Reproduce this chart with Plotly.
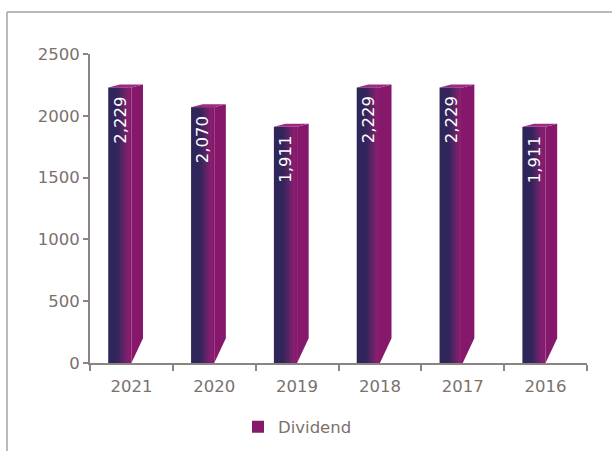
import plotly.graph_objects as go

# ---- data ----
years = ["2021", "2020", "2019", "2018", "2017", "2016"]
dividend = [2229, 2070, 1911, 2229, 2229, 1911]
value_labels = ["2,229", "2,070", "1,911", "2,229", "2,229", "1,911"]
y_ticks = [0, 500, 1000, 1500, 2000, 2500]

# ---- style constants ----
FRONT_W = 0.28      # front face width (category units)
DEPTH_X = 0.14      # side face depth (category units)
TOP_RISE = 24       # top slant (value units)
BOT_RISE = 200      # bottom slant of side face (value units)
N_STRIPES = 14
FONT = "DejaVu Sans"
GRAY = "#7b716d"
AXIS_COL = "#8c8480"

stops = [(0.0, (46, 38, 88)), (0.40, (50, 38, 92)), (0.70, (105, 35, 104)),
         (0.90, (142, 30, 114)), (1.0, (128, 24, 104))]


def grad(t):
    for (p0, c0), (p1, c1) in zip(stops[:-1], stops[1:]):
        if p0 <= t <= p1:
            f = (t - p0) / (p1 - p0) if p1 > p0 else 0
            c = [round(a + (b - a) * f) for a, b in zip(c0, c1)]
            return "rgb(%d,%d,%d)" % tuple(c)
    return "rgb(%d,%d,%d)" % stops[-1][1]


fig = go.Figure()

# front faces as stripes (gradient)
w = FRONT_W / N_STRIPES
for k in range(N_STRIPES):
    off = -FRONT_W + k * w
    width = min(w * 1.6, FRONT_W - k * w)
    last = k == N_STRIPES - 1
    fig.add_trace(go.Bar(
        x=years, y=dividend, offset=off, width=width,
        marker=dict(color=grad((k + 0.5) / N_STRIPES), line=dict(width=0)),
        name="Dividend", showlegend=last, hoverinfo="skip" if not last else None,
        xaxis="x", yaxis="y",
    ))

# side faces and top faces (numeric overlay axis)
sx, sy, tx, ty = [], [], [], []
for i, v in enumerate(dividend):
    sx += [i, i + DEPTH_X, i + DEPTH_X, i, i, None]
    sy += [0, BOT_RISE, v + TOP_RISE, v, 0, None]
    tx += [i - FRONT_W, i, i + DEPTH_X, i - FRONT_W + DEPTH_X, i - FRONT_W, None]
    ty += [v, v, v + TOP_RISE, v + TOP_RISE, v, None]

fig.add_trace(go.Scatter(x=sx, y=sy, xaxis="x2", yaxis="y", mode="lines",
                         fill="toself", fillcolor="#85186b", line=dict(width=0),
                         showlegend=False, hoverinfo="skip"))
fig.add_trace(go.Scatter(x=tx, y=ty, xaxis="x2", yaxis="y", mode="lines",
                         fill="toself", fillcolor="#9c2c82", line=dict(width=0),
                         showlegend=False, hoverinfo="skip"))

# rotated value labels
for i, (v, lab) in enumerate(zip(dividend, value_labels)):
    fig.add_annotation(x=i - FRONT_W / 2, y=v, xref="x2", yref="y",
                       text=lab, textangle=-90, showarrow=False,
                       yanchor="top", xanchor="center", yshift=-7,
                       font=dict(family=FONT, size=16.5, color="white"))

# outer frame (left and top lines)
L, R, T, B = 90, 587, 54, 363
pw, ph = R - L, B - T
fx = (7 - L) / pw
fy = 1 + (T - 12) / ph
fig.add_shape(type="line", xref="paper", yref="paper", x0=fx, x1=fx, y0=fy, y1=-(451 - B) / ph - 0.05,
              line=dict(color="#a8a29f", width=1.5))
fig.add_shape(type="line", xref="paper", yref="paper", x0=fx, x1=(612 - L) / pw + 0.05, y0=fy, y1=fy,
              line=dict(color="#a8a29f", width=1.5))

fig.update_layout(
    width=612, height=451,
    margin=dict(l=L, r=612 - R, t=T, b=451 - B),
    paper_bgcolor="white", plot_bgcolor="white",
    barmode="overlay",
    font=dict(family=FONT, size=16.5, color=GRAY),
    xaxis=dict(type="category", categoryorder="array", categoryarray=years,
               range=[-0.5, 5.5], tickson="boundaries", ticks="outside", ticklen=6,
               tickcolor=AXIS_COL, tickwidth=1.5, showline=True, linecolor=AXIS_COL,
               linewidth=2, showgrid=False, zeroline=False, ticklabelstandoff=7,
               automargin=False,
               tickfont=dict(family=FONT, size=16.5, color=GRAY)),
    xaxis2=dict(overlaying="x", range=[-0.5, 5.5], visible=False),
    yaxis=dict(range=[0, 2500], tickvals=y_ticks, ticktext=[str(t) for t in y_ticks],
               ticks="outside", ticklen=5, tickcolor=AXIS_COL, tickwidth=1.5,
               showline=True, linecolor=AXIS_COL, linewidth=2, showgrid=False,
               zeroline=False, automargin=False,
               tickfont=dict(family=FONT, size=16.5, color=GRAY)),
    legend=dict(orientation="h", x=(238 - L) / pw, xanchor="left",
                yref="container", y=(451 - 427) / 451, yanchor="middle", itemwidth=30,
                font=dict(family=FONT, size=16.5, color=GRAY)),
    showlegend=True,
)

fig.write_html("out.html", config={"displayModeBar": False},
               post_script="document.body.style.margin='0';")
